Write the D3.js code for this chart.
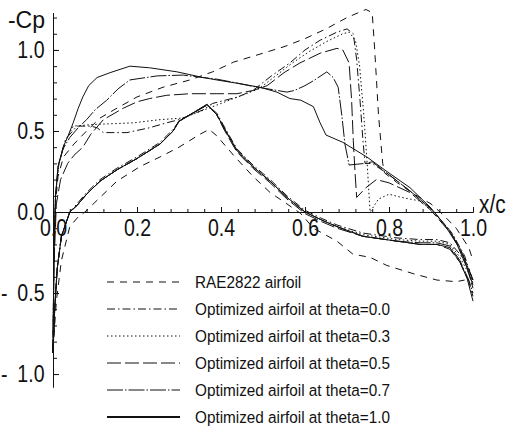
<!DOCTYPE html>
<html>
<head>
<meta charset="utf-8">
<script src="https://d3js.org/d3.v7.min.js"></script>
<style>
  body { margin: 0; background: #fff; }
  svg { display: block; }
  text { font-family: "Liberation Sans", Arial, sans-serif; fill: #111; }
  .curve { fill: none; stroke: #111; stroke-width: 1; }
</style>
</head>
<body>
<svg width="508" height="429"></svg>
<script>
// series names (legend order)
var seriesNames = ["RAE2822 airfoil",
  "Optimized airfoil at theta=0.0",
  "Optimized airfoil at theta=0.3",
  "Optimized airfoil at theta=0.5",
  "Optimized airfoil at theta=0.7",
  "Optimized airfoil at theta=1.0"];

// [x/c, -Cp]
var raeUpper = [[0,-0.85],[0.002,-0.35],[0.006,0.05],[0.012,0.22],[0.025,0.34],[0.05,0.42],[0.08,0.5],[0.112,0.58],[0.145,0.63],
  [0.2,0.71],[0.262,0.77],[0.326,0.815],[0.38,0.865],[0.43,0.925],[0.5,0.98],[0.55,1.02],[0.6,1.07],[0.65,1.13],[0.7,1.2],
  [0.745,1.25],[0.76,1.23],[0.766,1.0],[0.775,0.6],[0.785,0.3],[0.79,0.24],[0.82,0.18],[0.86,0.11],[0.9,0.05],[0.93,-0.02],
  [0.96,-0.1],[0.99,-0.22],[1.0,-0.3]];
var raeLower = [[0,-0.85],[0.008,-0.55],[0.02,-0.3],[0.04,-0.09],[0.06,-0.03],[0.076,0],[0.112,0.09],[0.152,0.19],[0.207,0.28],
  [0.255,0.34],[0.3,0.4],[0.35,0.48],[0.372,0.51],[0.39,0.47],[0.43,0.35],[0.476,0.22],[0.517,0.12],[0.557,0.05],[0.59,-0.01],
  [0.62,-0.1],[0.676,-0.18],[0.714,-0.26],[0.755,-0.28],[0.795,-0.33],[0.857,-0.38],[0.914,-0.42],[0.96,-0.43],[0.98,-0.42]];

var t00Upper = [[0,-0.87],[0.002,-0.3],[0.006,0.1],[0.014,0.3],[0.03,0.45],[0.057,0.53],[0.09,0.53],[0.105,0.52],[0.12,0.49],
  [0.176,0.49],[0.23,0.52],[0.27,0.55],[0.3,0.57],[0.357,0.63],[0.38,0.67],[0.44,0.71],[0.476,0.75],[0.52,0.84],[0.564,0.92],
  [0.6,1.0],[0.636,1.06],[0.676,1.11],[0.7,1.13],[0.715,1.1],[0.723,0.94],[0.731,0.69],[0.738,0.44],[0.743,0.3],[0.76,0.3],
  [0.8,0.23],[0.85,0.13],[0.9,0.02],[0.95,-0.13],[0.98,-0.27],[1.0,-0.43]];
var t00Lower = [[0,-0.87],[0.004,-0.6],[0.01,-0.35],[0.02,-0.15],[0.04,0],[0.057,0.05],[0.08,0.12],[0.112,0.2],[0.152,0.27],
  [0.2,0.34],[0.255,0.43],[0.286,0.51],[0.3,0.56],[0.326,0.6],[0.367,0.66],[0.39,0.61],[0.405,0.54],[0.42,0.47],[0.438,0.39],
  [0.476,0.29],[0.517,0.2],[0.557,0.1],[0.6,0.01],[0.64,-0.04],[0.676,-0.08],[0.738,-0.13],[0.819,-0.16],[0.874,-0.17],
  [0.914,-0.17],[0.945,-0.19],[0.969,-0.26],[0.99,-0.35],[1.0,-0.42]];

var t03Upper = [[0,-0.87],[0.002,-0.3],[0.006,0.1],[0.014,0.3],[0.03,0.44],[0.048,0.53],[0.095,0.54],[0.19,0.55],[0.255,0.57],
  [0.31,0.58],[0.35,0.62],[0.4,0.67],[0.45,0.72],[0.49,0.76],[0.53,0.84],[0.57,0.92],[0.61,0.99],[0.65,1.05],[0.69,1.1],
  [0.705,1.11],[0.72,1.06],[0.73,0.9],[0.74,0.6],[0.748,0.3],[0.755,0.0],[0.775,0.08],[0.8,0.11],[0.83,0.09],[0.87,0.07],
  [0.9,0.02],[0.95,-0.13],[0.98,-0.28],[1.0,-0.44]];
var t03Lower = [[0,-0.87],[0.004,-0.6],[0.01,-0.35],[0.02,-0.15],[0.04,0],[0.057,0.04],[0.08,0.11],[0.112,0.19],[0.152,0.26],
  [0.2,0.33],[0.255,0.42],[0.286,0.5],[0.3,0.56],[0.326,0.6],[0.367,0.66],[0.39,0.6],[0.405,0.53],[0.42,0.46],[0.438,0.38],
  [0.476,0.28],[0.517,0.19],[0.557,0.09],[0.6,0],[0.64,-0.05],[0.676,-0.09],[0.738,-0.14],[0.819,-0.17],[0.874,-0.18],
  [0.914,-0.18],[0.945,-0.2],[0.969,-0.28],[0.99,-0.38],[1.0,-0.46]];

var t05Upper = [[0,-0.87],[0.002,-0.35],[0.008,0.05],[0.018,0.2],[0.035,0.3],[0.05,0.35],[0.071,0.4],[0.09,0.48],[0.12,0.57],
  [0.167,0.64],[0.2,0.68],[0.23,0.7],[0.27,0.72],[0.326,0.73],[0.39,0.73],[0.438,0.73],[0.476,0.75],[0.51,0.78],[0.55,0.86],
  [0.588,0.92],[0.636,0.98],[0.676,1.01],[0.69,1.0],[0.705,0.92],[0.711,0.69],[0.715,0.44],[0.719,0.25],[0.723,0.09],
  [0.745,0.15],[0.77,0.2],[0.8,0.18],[0.85,0.12],[0.9,0.01],[0.95,-0.14],[0.98,-0.29],[1.0,-0.47]];
var t05Lower = [[0,-0.87],[0.004,-0.6],[0.01,-0.35],[0.02,-0.15],[0.04,0],[0.057,0.04],[0.08,0.11],[0.112,0.19],[0.152,0.26],
  [0.2,0.33],[0.255,0.42],[0.286,0.5],[0.3,0.56],[0.326,0.6],[0.367,0.665],[0.39,0.6],[0.405,0.52],[0.42,0.45],[0.438,0.37],
  [0.476,0.27],[0.517,0.18],[0.557,0.08],[0.6,-0.01],[0.64,-0.06],[0.676,-0.1],[0.738,-0.15],[0.819,-0.18],[0.874,-0.2],
  [0.914,-0.2],[0.945,-0.23],[0.969,-0.31],[0.99,-0.43],[1.0,-0.52]];

var t07Upper = [[0,-0.87],[0.002,-0.3],[0.006,0.1],[0.012,0.28],[0.024,0.39],[0.04,0.46],[0.06,0.52],[0.08,0.57],[0.1,0.63],
  [0.128,0.69],[0.155,0.76],[0.183,0.815],[0.248,0.84],[0.31,0.845],[0.357,0.83],[0.39,0.82],[0.44,0.795],[0.476,0.775],
  [0.5,0.765],[0.557,0.74],[0.575,0.75],[0.6,0.78],[0.62,0.81],[0.652,0.865],[0.667,0.83],[0.679,0.77],[0.688,0.59],
  [0.695,0.42],[0.705,0.29],[0.743,0.3],[0.76,0.31],[0.8,0.23],[0.85,0.13],[0.9,0.02],[0.94,-0.1],[0.97,-0.23],[1.0,-0.42]];
var t07Lower = [[0,-0.87],[0.004,-0.6],[0.01,-0.35],[0.02,-0.15],[0.04,0],[0.057,0.04],[0.08,0.11],[0.112,0.19],[0.152,0.26],
  [0.2,0.33],[0.255,0.42],[0.286,0.5],[0.3,0.56],[0.326,0.6],[0.367,0.66],[0.39,0.6],[0.405,0.53],[0.42,0.46],[0.438,0.38],
  [0.476,0.28],[0.517,0.19],[0.557,0.09],[0.6,0],[0.64,-0.05],[0.676,-0.09],[0.738,-0.15],[0.819,-0.18],[0.874,-0.19],
  [0.914,-0.19],[0.945,-0.21],[0.969,-0.3],[0.99,-0.42],[1.0,-0.5]];

var t10Upper = [[0,-0.87],[0.002,-0.3],[0.006,0.1],[0.012,0.28],[0.024,0.4],[0.036,0.47],[0.048,0.55],[0.06,0.64],[0.071,0.71],
  [0.085,0.78],[0.105,0.83],[0.136,0.86],[0.183,0.9],[0.23,0.89],[0.295,0.865],[0.357,0.83],[0.39,0.815],[0.437,0.795],
  [0.493,0.77],[0.533,0.74],[0.564,0.7],[0.59,0.69],[0.62,0.65],[0.636,0.55],[0.65,0.475],[0.69,0.43],[0.747,0.34],
  [0.795,0.25],[0.85,0.15],[0.898,0.03],[0.93,-0.07],[0.962,-0.2],[0.985,-0.34],[1.0,-0.45]];
var t10Lower = [[0,-0.87],[0.004,-0.6],[0.01,-0.35],[0.02,-0.15],[0.04,0],[0.057,0.04],[0.08,0.11],[0.112,0.19],[0.152,0.26],
  [0.2,0.33],[0.255,0.42],[0.286,0.5],[0.3,0.56],[0.326,0.6],[0.367,0.665],[0.39,0.6],[0.405,0.53],[0.42,0.46],[0.438,0.38],
  [0.476,0.28],[0.517,0.19],[0.557,0.09],[0.6,0],[0.64,-0.05],[0.676,-0.09],[0.738,-0.15],[0.819,-0.18],[0.874,-0.2],
  [0.914,-0.2],[0.945,-0.22],[0.969,-0.31],[0.986,-0.41],[1.0,-0.55]];

var yMajor = [-1.0, -0.5, 0.0, 0.5, 1.0];
var xMajor = [0.0, 0.2, 0.4, 0.6, 0.8, 1.0];

var curves = [[raeUpper, raeLower], [t00Upper, t00Lower], [t03Upper, t03Lower],
              [t05Upper, t05Lower], [t07Upper, t07Lower], [t10Upper, t10Lower]];

// line styles per series
var dashes = ["7,6", "8,3,1.5,3", "1.5,2.5", "14,4", "16,2,1.5,2", null];
var widths = [1, 1, 1, 1, 1, 1.3];

var svg = d3.select("svg");

var x = d3.scaleLinear().domain([0, 1]).range([53, 473]);
var y = d3.scaleLinear().domain([-1.08, 1.23]).range([387, 12.7]);

function fmt(d) {
  var s = d3.format(".1f")(Math.abs(d));
  return d < 0 ? "-\u2002" + s : s;
}

// y axis: ticks point inward, labels left
var yAxis = svg.append("g").attr("transform", "translate(" + x(0) + ",0)")
  .call(d3.axisLeft(y).tickValues(yMajor).tickFormat(fmt).tickSizeInner(-6).tickSizeOuter(0).tickPadding(9));
svg.append("g").attr("transform", "translate(" + x(0) + ",0)")
  .call(d3.axisLeft(y).tickValues(d3.range(-10, 13).map(function(d) { return d / 10; }))
    .tickFormat("").tickSizeInner(-4).tickSizeOuter(0));

// x axis at -Cp = 0, ticks point up
var xAxis = svg.append("g").attr("transform", "translate(0," + y(0) + ")")
  .call(d3.axisBottom(x).tickValues(xMajor).tickFormat(d3.format(".1f")).tickSizeInner(-5).tickSizeOuter(0).tickPadding(8));
svg.append("g").attr("transform", "translate(0," + y(0) + ")")
  .call(d3.axisBottom(x).tickValues(d3.range(0, 26).map(function(d) { return d * 0.04; }))
    .tickFormat("").tickSizeInner(-3).tickSizeOuter(0));

svg.selectAll(".domain, .tick line").attr("stroke", "#111").attr("stroke-width", 1);
svg.selectAll(".tick text")
  .style("font-family", "'Liberation Sans', Arial, sans-serif")
  .style("font-size", "23px").attr("fill", "#111");
yAxis.selectAll(".tick text").attr("transform", "scale(0.85,1)").attr("x", -10);
xAxis.selectAll(".tick text").attr("transform", "scale(0.85,1)");

svg.append("text").attr("x", 45).attr("y", 28).attr("text-anchor", "end")
  .style("font-size", "23px").text("-Cp");
svg.append("text").attr("transform", "translate(479,213) scale(0.8,1)")
  .style("font-size", "26px").text("x/c");

// curves
var line = d3.line().x(function(d) { return x(d[0]); }).y(function(d) { return y(d[1]); });

curves.forEach(function(pair, i) {
  pair.forEach(function(c) {
    svg.append("path").attr("class", "curve").attr("d", line(c))
      .attr("stroke-dasharray", dashes[i])
      .attr("stroke-width", widths[i]);
  });
});

// legend
var legend = svg.append("g");
seriesNames.forEach(function(name, i) {
  var ly = 282 + i * 27;
  legend.append("line").attr("x1", 107).attr("x2", 180).attr("y1", ly).attr("y2", ly)
    .attr("stroke", "#111").attr("stroke-width", i == 5 ? 2 : 1)
    .attr("stroke-dasharray", dashes[i]);
  legend.append("text").attr("transform", "translate(195," + (ly + 6) + ") scale(0.9,1)")
    .style("font-size", "17px").text(name);
});
</script>
</body>
</html>
